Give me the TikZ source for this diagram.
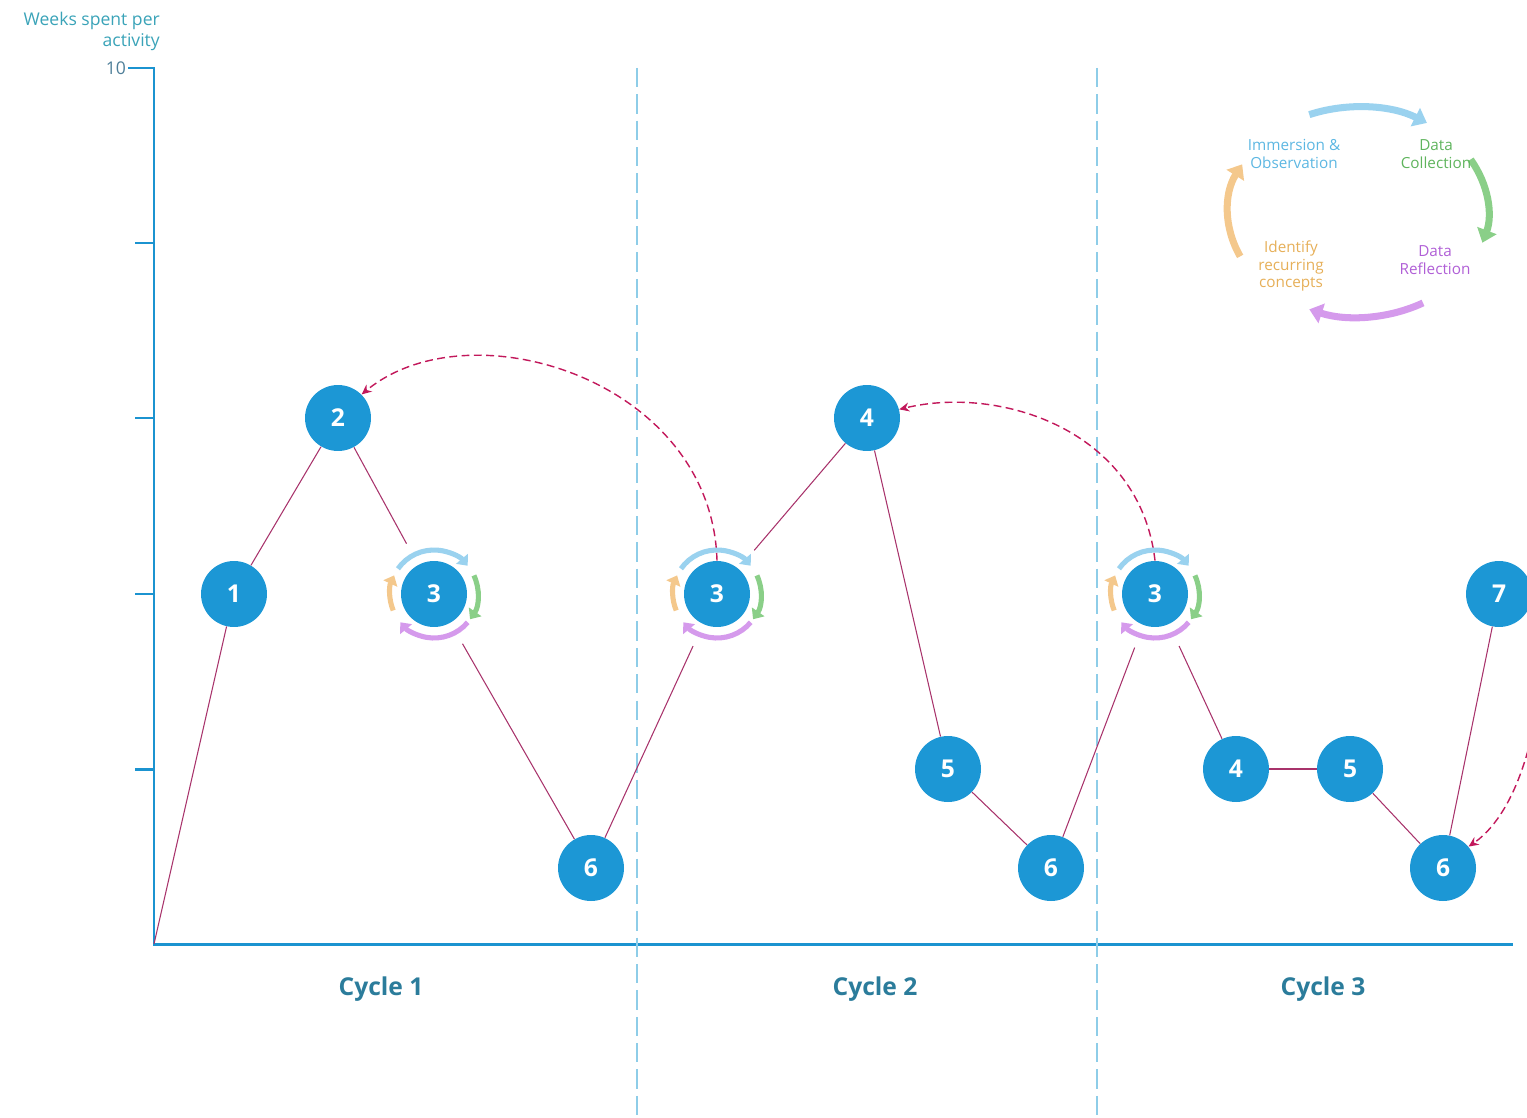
\documentclass[tikz,border=0pt]{standalone}
\usepackage{fontspec}
\setmainfont{Open Sans}
\usetikzlibrary{arrows.meta}
\definecolor{axisblue}{HTML}{1B93D0}
\definecolor{nodeblue}{HTML}{1C97D5}
\definecolor{gridblue}{HTML}{8ECDE8}
\definecolor{linkred}{HTML}{A8336B}
\definecolor{backred}{HTML}{C2185B}
\definecolor{labelteal}{HTML}{3AA3B8}
\definecolor{ticktext}{HTML}{4F7F99}
\definecolor{cycleteal}{HTML}{2B7C9B}
\definecolor{stepblue}{HTML}{9AD2EF}
\definecolor{stepgreen}{HTML}{8ACF88}
\definecolor{steppurple}{HTML}{D59AEC}
\definecolor{steporange}{HTML}{F4C88C}
\definecolor{textblue}{HTML}{5DB7E2}
\definecolor{textgreen}{HTML}{5FB45D}
\definecolor{textpurple}{HTML}{B05FD6}
\definecolor{textorange}{HTML}{E6AF58}
\tikzset{num/.style={circle,fill=nodeblue,text=white,minimum size=13.2mm,inner sep=0pt,
  font=\fontsize{14}{14}\selectfont\bfseries},
  link/.style={draw=linkred,line width=0.6pt},
  tothree/.style={shorten >=4.8mm},
  fromthree/.style={shorten <=4.8mm},
  back/.style={draw=backred,line width=0.8pt,dash pattern=on 4.5pt off 2.5pt,
  -{Stealth[length=2mm,width=1.8mm]}},
  ring/.style={line width=2.9pt,-{Triangle[length=1.8mm,width=3mm]}},
  bigring/.style={line width=4pt,-{Triangle[length=2.6mm,width=4mm]}},
  legend/.style={align=center,font=\fontsize{8.7}{10}\selectfont},
  cyclelabel/.style={text=cycleteal,font=\fontsize{14}{16}\selectfont\bfseries}}
\begin{document}
\begin{tikzpicture}[x=0.02cm,y=-0.02cm]
\useasboundingbox (0,0) rectangle (1527,1118);
% axes and ticks
\draw[axisblue,line width=1.7pt] (128,68) -- (154,68) -- (154,944) -- (1513,944);
\foreach \y in {243,418,594,769} \draw[axisblue,line width=1.7pt] (135,\y) -- (154,\y);
\node[anchor=east,text=ticktext,font=\fontsize{10}{12}\selectfont,inner sep=1pt] (ten) at (128,68) {10};
\node[anchor=east,align=right,text=labelteal,font=\fontsize{10}{12}\selectfont] (ylabel) at (166,31) {Weeks spent per\\activity};
% cycle borders
\foreach \x in {637,1097} \draw[gridblue,line width=1.3pt,dash pattern=on 11pt off 4pt] (\x,68) -- (\x,1118);
\node[cyclelabel] (cyc1) at (381,989) {Cycle 1};
\node[cyclelabel] (cyc2) at (875,989) {Cycle 2};
\node[cyclelabel] (cyc3) at (1323,989) {Cycle 3};
% activities
\coordinate (o) at (154,944);
\node[num] (a1) at (234,594) {1};
\node[num] (a2) at (338,418) {2};
\node[num] (a3) at (434,594) {3};
\node[num] (a6) at (591,868) {6};
\node[num] (b3) at (717,594) {3};
\node[num] (b4) at (867,418) {4};
\node[num] (b5) at (948,769) {5};
\node[num] (b6) at (1051,868) {6};
\node[num] (c3) at (1155,594) {3};
\node[num] (c4) at (1236,769) {4};
\node[num] (c5) at (1350,769) {5};
\node[num] (c6) at (1443,868) {6};
\node[num] (c7) at (1499,594) {7};
\draw[link] (o) -- (a1);\draw[link] (a1) -- (a2);
\draw[link,tothree] (a2) -- (a3);\draw[link,fromthree] (a3) -- (a6);
\draw[link,tothree] (a6) -- (b3);\draw[link,fromthree] (b3) -- (b4);
\draw[link] (b4) -- (b5);\draw[link] (b5) -- (b6);
\draw[link,tothree] (b6) -- (c3);\draw[link,fromthree] (c3) -- (c4);
\draw[link] (c4) -- (c5);\draw[link] (c5) -- (c6);
\draw[link] (c6) -- (c7);
% returns to earlier activities
\draw[back] (b3.north) .. controls (712,380) and (470,305) .. (a2.45);
\draw[back] (c3.north) .. controls (1140,430) and (1000,385) .. (b4.15);
\coordinate (cont) at (1540,690);
\draw[back] (cont) .. controls (1528,780) and (1500,825) .. (c6.40);
% small cycles round activity 3
\foreach \c in {a3,b3,c3}{
  \draw[ring,stepblue] ([shift={(-145:44)}]\c.center) arc[start angle=-145,end angle=-40,radius=44];
  \draw[ring,stepgreen] ([shift={(-25:44)}]\c.center) arc[start angle=-25,end angle=35,radius=44];
  \draw[ring,steppurple] ([shift={(40:44)}]\c.center) arc[start angle=40,end angle=140,radius=44];
  \draw[ring,steporange] ([shift={(158:44)}]\c.center) arc[start angle=158,end angle=205,radius=44];
}
% legend cycle
\coordinate (lc) at (1358,212);
\draw[bigring,stepblue] ([shift={(-112:130 and 105)}]lc) arc[start angle=-112,end angle=-58,x radius=130,y radius=105];
\draw[bigring,stepgreen] ([shift={(-30:130 and 105)}]lc) arc[start angle=-30,end angle=17,x radius=130,y radius=105];
\draw[bigring,steppurple] ([shift={(60:130 and 105)}]lc) arc[start angle=60,end angle=112,x radius=130,y radius=105];
\draw[bigring,steporange] ([shift={(155:130 and 105)}]lc) arc[start angle=155,end angle=207,x radius=130,y radius=105];
\node[legend,text=textblue] (imm) at (1294,154) {Immersion \&\\Observation};
\node[legend,text=textgreen] (col) at (1436,154) {Data\\Collection};
\node[legend,text=textpurple] (refl) at (1435,260) {Data\\Reflection};
\node[legend,text=textorange] (ident) at (1291,266) {Identify\\recurring\\concepts};
\end{tikzpicture}
\end{document}
